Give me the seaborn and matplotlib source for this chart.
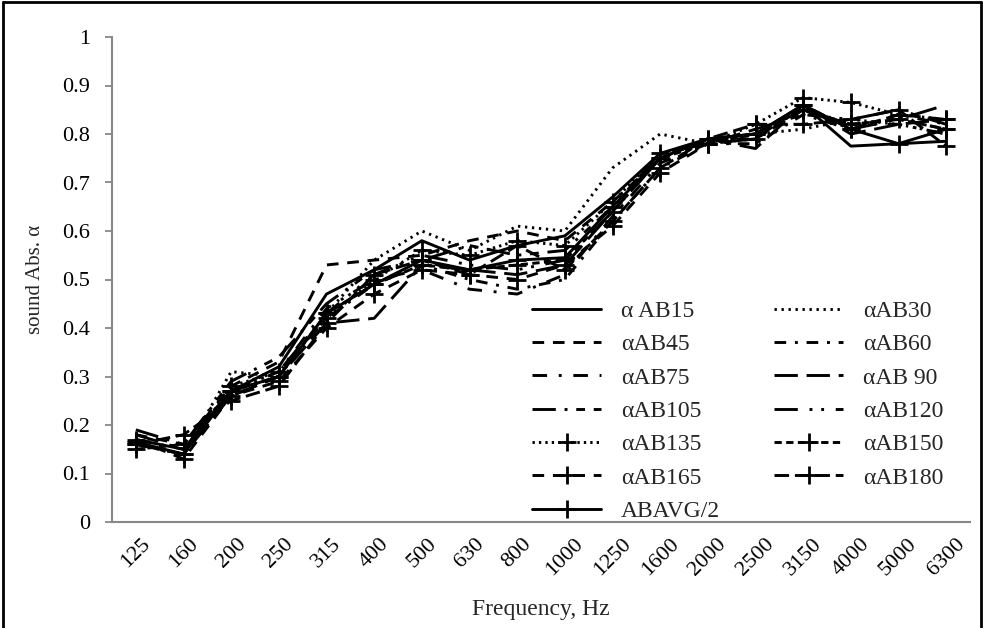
import numpy as np
import pandas as pd
import matplotlib
matplotlib.use("Agg")
import matplotlib.pyplot as plt
import seaborn as sns
from matplotlib.lines import Line2D

categories = ["125", "160", "200", "250", "315", "400", "500", "630", "800", "1000",
              "1250", "1600", "2000", "2500", "3150", "4000", "5000", "6300"]

ab15 = [0.17, 0.15, 0.27, 0.32, 0.47, 0.52, 0.58, 0.54, 0.57, 0.59, 0.67, 0.76, 0.79, 0.80, 0.86, 0.775, 0.78, 0.785]
ab30 = [0.16, 0.14, 0.31, 0.30, 0.43, 0.54, 0.60, 0.56, 0.61, 0.60, 0.73, 0.80, 0.78, 0.80, 0.81, 0.83, 0.82, 0.80]
ab45 = [0.18, 0.16, 0.28, 0.33, 0.53, 0.54, 0.55, 0.58, 0.60, 0.58, 0.66, 0.75, 0.79, 0.79, 0.85, 0.82, 0.83, 0.81]
ab60 = [0.16, 0.14, 0.26, 0.30, 0.42, 0.49, 0.53, 0.50, 0.48, 0.50, 0.62, 0.73, 0.78, 0.78, 0.84, 0.81, 0.84, 0.82]
ab75 = [0.17, 0.15, 0.27, 0.31, 0.44, 0.50, 0.52, 0.48, 0.47, 0.51, 0.63, 0.74, 0.78, 0.79, 0.85, 0.82, 0.82, 0.80]
ab90 = [0.16, 0.14, 0.26, 0.30, 0.41, 0.42, 0.53, 0.52, 0.51, 0.53, 0.64, 0.75, 0.79, 0.77, 0.86, 0.80, 0.82, 0.83]
ab105 = [0.19, 0.16, 0.29, 0.34, 0.45, 0.52, 0.54, 0.57, 0.55, 0.56, 0.65, 0.76, 0.78, 0.81, 0.84, 0.83, 0.85, 0.82]
ab120 = [0.18, 0.15, 0.27, 0.31, 0.43, 0.51, 0.55, 0.53, 0.52, 0.54, 0.64, 0.75, 0.79, 0.80, 0.85, 0.81, 0.83, 0.86]
ab135 = [0.16, 0.14, 0.28, 0.31, 0.42, 0.50, 0.56, 0.55, 0.58, 0.57, 0.66, 0.76, 0.78, 0.82, 0.875, 0.865, 0.84, 0.83]
ab150 = [0.15, 0.16, 0.27, 0.30, 0.43, 0.49, 0.53, 0.52, 0.53, 0.54, 0.64, 0.75, 0.78, 0.80, 0.85, 0.82, 0.83, 0.81]
ab165 = [0.17, 0.13, 0.26, 0.29, 0.40, 0.47, 0.52, 0.51, 0.50, 0.53, 0.61, 0.72, 0.78, 0.79, 0.86, 0.81, 0.84, 0.83]
ab180 = [0.16, 0.18, 0.25, 0.28, 0.41, 0.51, 0.54, 0.51, 0.57, 0.52, 0.62, 0.73, 0.79, 0.82, 0.82, 0.83, 0.85, 0.775]
abavg = [0.165, 0.14, 0.27, 0.30, 0.43, 0.49, 0.54, 0.52, 0.54, 0.545, 0.65, 0.75, 0.79, 0.80, 0.86, 0.81, 0.78, 0.81]

series_names = ["\u03b1 AB15", "\u03b1AB30", "\u03b1AB45", "\u03b1AB60", "\u03b1AB75", "\u03b1AB 90",
                "\u03b1AB105", "\u03b1AB120", "\u03b1AB135", "\u03b1AB150", "\u03b1AB165", "\u03b1AB180", "ABAVG/2"]
series_values = [ab15, ab30, ab45, ab60, ab75, ab90, ab105, ab120, ab135, ab150, ab165, ab180, abavg]

styles = [
    ("-", ""),
    ((0, (0.8, 1.6)), ""),
    ((0, (4, 3)), ""),
    ((0, (4, 3, 1, 3)), ""),
    ((0, (5, 4, 1, 4)), ""),
    ((0, (8, 3)), ""),
    ((0, (8, 3, 1, 3, 3, 3)), ""),
    ((0, (8, 4, 1, 3, 1, 4)), ""),
    ((0, (0.8, 1.4)), "+"),
    ((0, (2.5, 1.5)), "+"),
    ((0, (4, 3)), "+"),
    ((0, (5, 2)), "+"),
    ("-", "+"),
]

sns.set_theme(style="white")
plt.rcParams["font.family"] = ["Liberation Serif", "DejaVu Serif"]

fig = plt.figure(figsize=(9.84, 6.28), dpi=100)
ax = fig.add_axes([112 / 984, 1 - 522 / 628, 858 / 984, 485 / 628])

pos = np.arange(len(categories))
for name, vals, (ls, mk) in zip(series_names, series_values, styles):
    df = pd.DataFrame({"x": pos, "y": vals})
    sns.lineplot(data=df, x="x", y="y", ax=ax, color="black", linewidth=2.1,
                 linestyle=ls, marker=mk if mk else None, markersize=13,
                 markeredgewidth=2.0, markeredgecolor="black", label=name)

ax.set_xlim(-0.5, len(categories) - 0.5)
ax.set_ylim(0, 1)
ax.set_yticks(np.arange(0, 1.01, 0.1))
ax.set_yticklabels(["0", "0.1", "0.2", "0.3", "0.4", "0.5", "0.6", "0.7", "0.8", "0.9", "1"])
ax.set_xticks(pos)
ax.set_xticklabels(categories, rotation=45, ha="center", va="top")
ax.set_xticks(np.arange(-0.5, len(categories), 1.0), minor=True)
ax.tick_params(axis="x", which="major", length=0, labelsize=16, pad=9, colors="black")
ax.tick_params(axis="x", which="minor", length=6, width=1.3, color="#888888", direction="out")
ax.tick_params(axis="y", which="major", length=5, width=1.3, color="#888888", labelsize=16,
               direction="out", pad=11, labelcolor="black")
ax.tick_params(bottom=True, left=True)
for s in ["top", "right"]:
    ax.spines[s].set_visible(False)
for s in ["left", "bottom"]:
    ax.spines[s].set_color("#888888")
    ax.spines[s].set_linewidth(1.5)

ax.set_xlabel("Frequency, Hz", fontsize=17, labelpad=14)
ax.set_ylabel("sound Abs. \u03b1", fontsize=15, labelpad=12)

handles, labels = ax.get_legend_handles_labels()
order = [0, 2, 4, 6, 8, 10, 12, 1, 3, 5, 7, 9, 11]
ax.legend([handles[i] for i in order], [labels[i] for i in order],
          ncol=2, loc="lower left", bbox_to_anchor=(0.49, 0.0), frameon=False,
          fontsize=17, handlelength=2.9, handletextpad=0.85, labelspacing=0.5,
          columnspacing=2.3, borderpad=0.0, borderaxespad=0.0)

# outer border (left, top, right)
for xs, ys in [([0.003, 0.003], [-0.1, 0.997]), ([0.003, 0.997], [0.997, 0.997]),
               ([0.997, 0.997], [0.997, -0.1])]:
    fig.add_artist(Line2D(xs, ys, transform=fig.transFigure, color="black", linewidth=2))

fig.savefig("out.png", dpi=100)
